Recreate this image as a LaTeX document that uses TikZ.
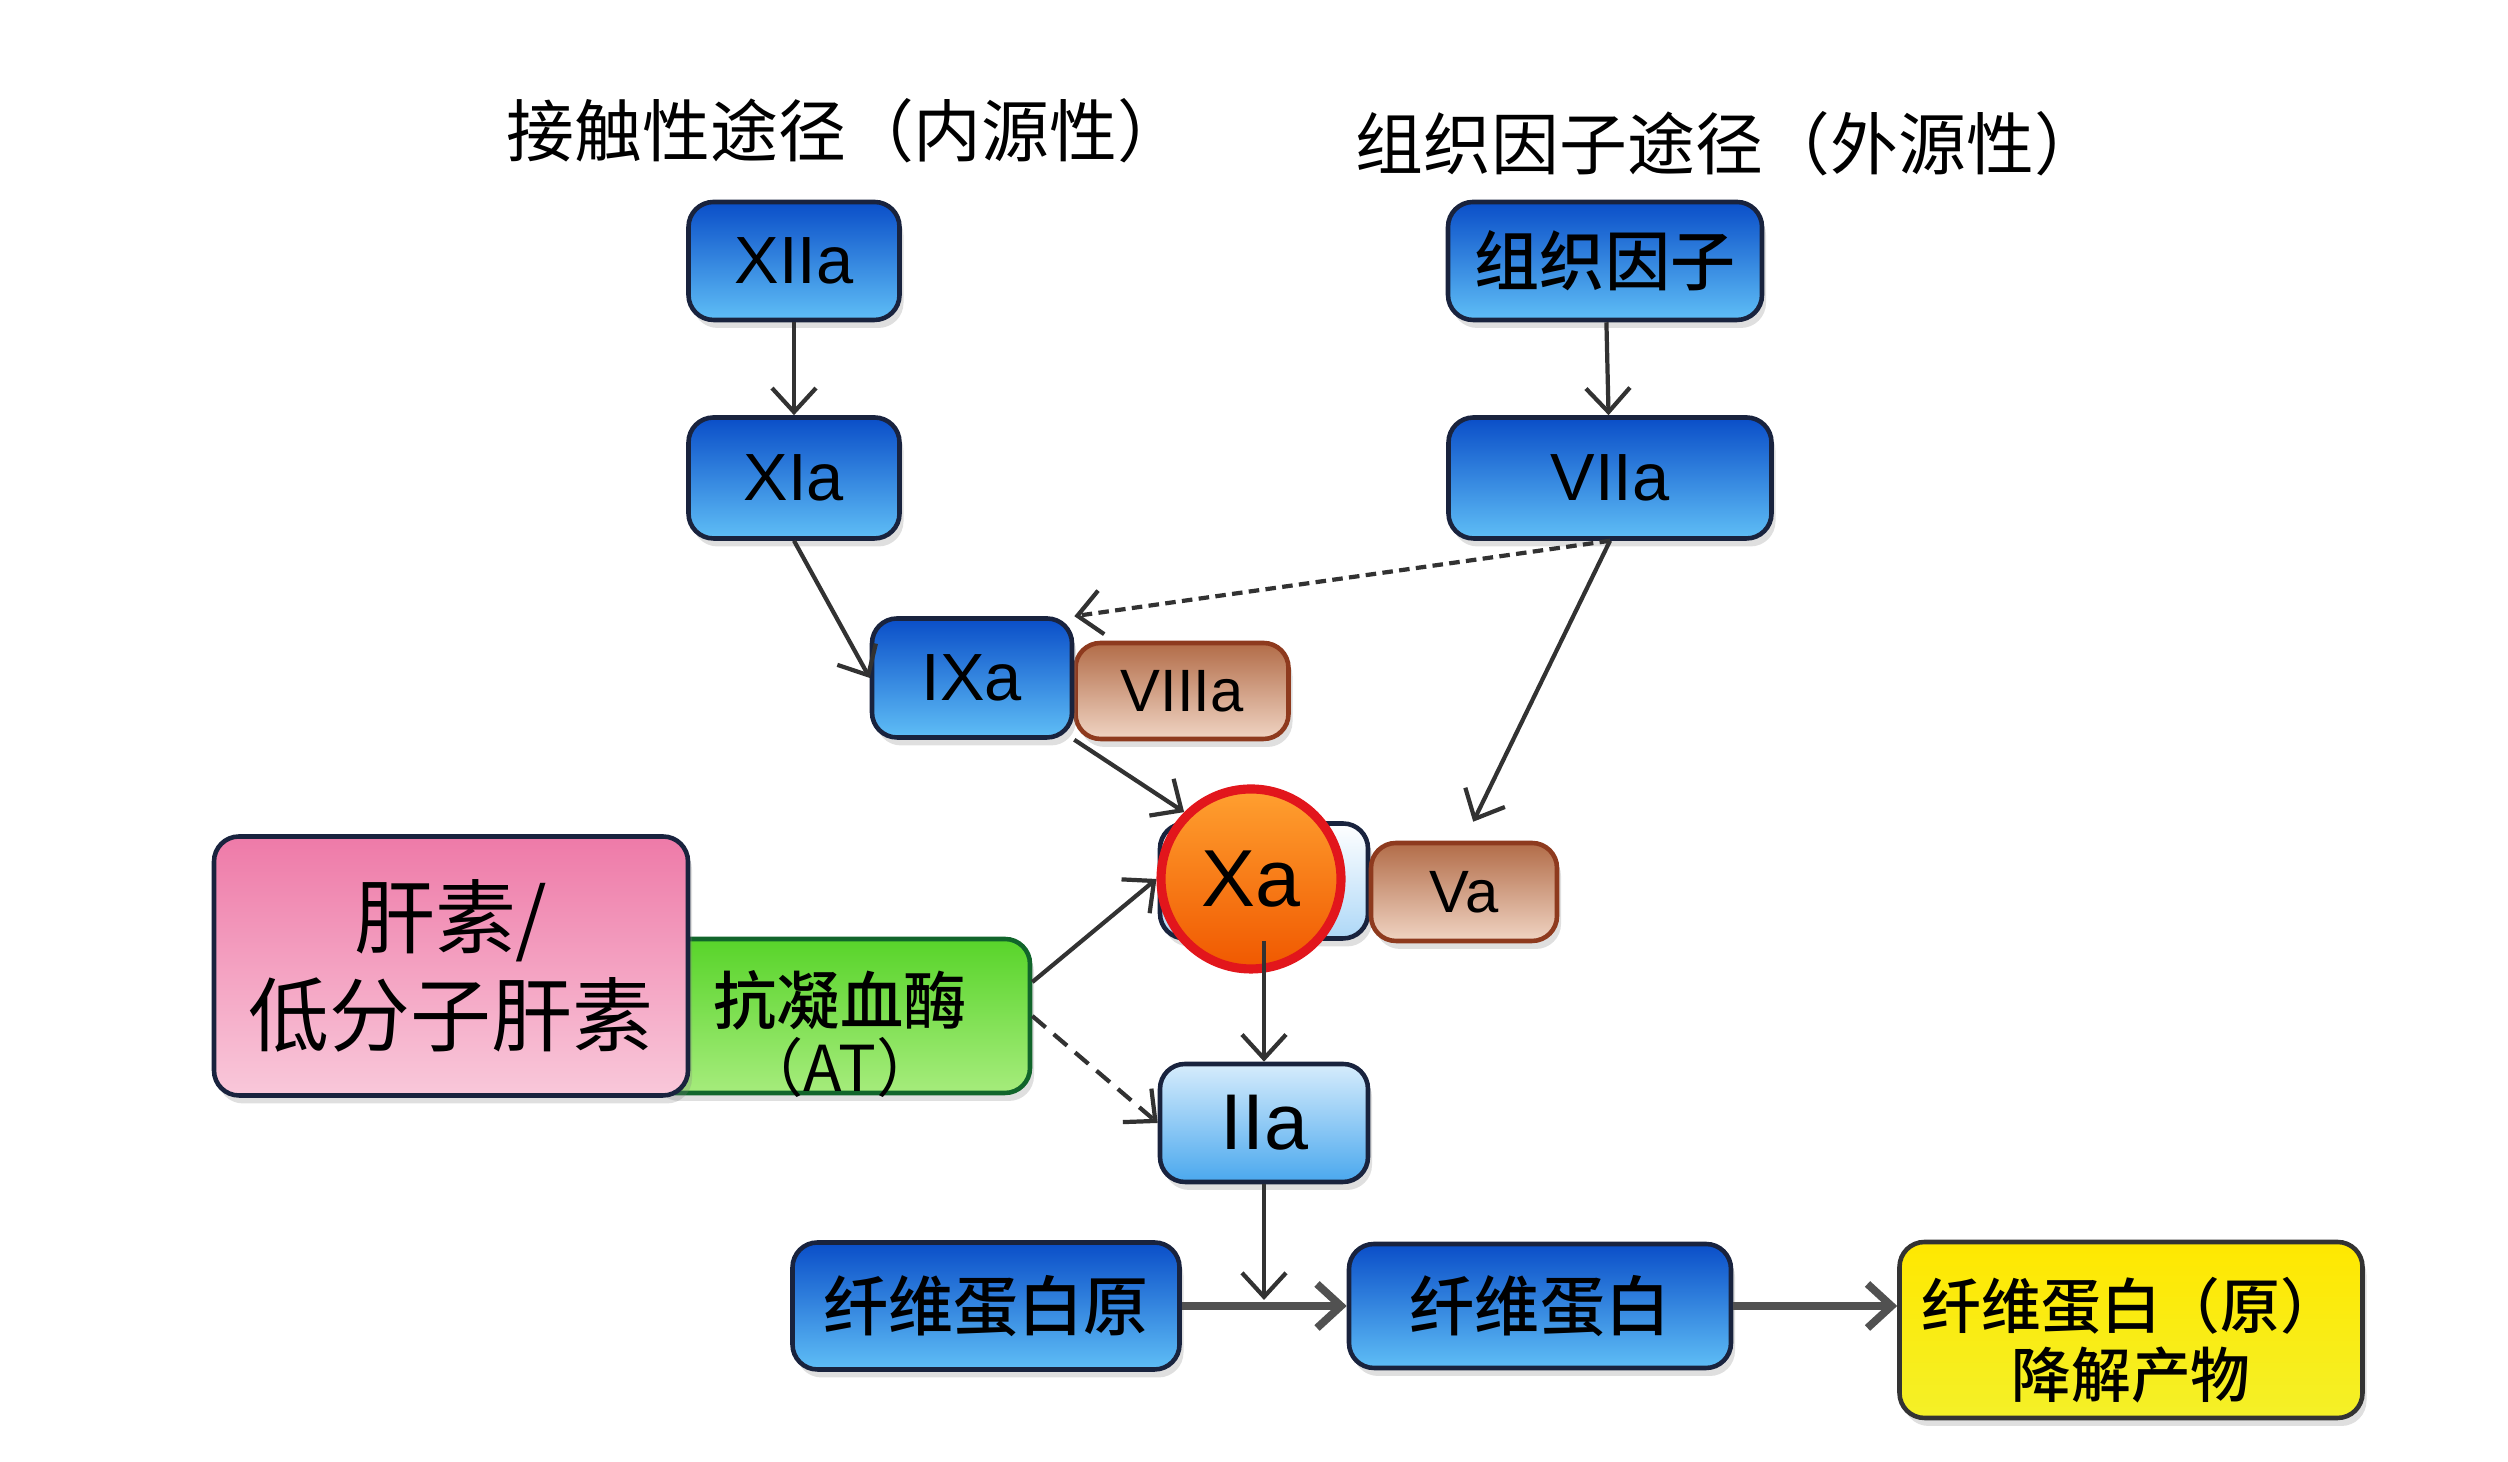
\documentclass[tikz,border=0pt]{standalone}
\usepackage{fontspec}
\setmainfont{Liberation Sans}
\newfontfamily\cjk{Noto Sans CJK SC}
\newfontfamily\cjkmed{Noto Sans CJK SC Medium}
\usepackage{tikz}
\usetikzlibrary{arrows.meta, positioning, calc, shadows}
\definecolor{navyline}{RGB}{25,35,62}
\definecolor{bluetop}{RGB}{10,78,200}
\definecolor{bluebot}{RGB}{95,190,246}
\definecolor{lighttop}{RGB}{214,236,252}
\definecolor{lightbot}{RGB}{74,168,238}
\definecolor{browntop}{RGB}{178,108,72}
\definecolor{brownbot}{RGB}{240,212,195}
\definecolor{brownline}{RGB}{142,58,30}
\definecolor{pinktop}{RGB}{238,122,168}
\definecolor{pinkbot}{RGB}{249,200,218}
\definecolor{greentop}{RGB}{88,212,42}
\definecolor{greenbot}{RGB}{166,236,124}
\definecolor{yellowtop}{RGB}{255,232,0}
\definecolor{yellowbot}{RGB}{244,240,40}
\definecolor{orangetop}{RGB}{255,160,48}
\definecolor{orangebot}{RGB}{240,88,0}
\definecolor{ringred}{RGB}{226,22,28}
\definecolor{arrowgray}{RGB}{50,50,50}
\tikzset{>={Straight Barb[length=2.4mm,width=4.4mm]}}
\tikzset{
	box/.style={draw=navyline, line width=1.3pt, rounded corners=2.5mm, inner sep=0pt, align=center,
		drop shadow={opacity=0.25, shadow xshift=0.4mm, shadow yshift=-0.8mm}},
	factor/.style={box, top color=bluetop, bottom color=bluebot, font=\fontsize{19}{22}\selectfont},
	cofactor/.style={box, draw=brownline, top color=browntop, bottom color=brownbot, font=\fontsize{17}{20}\selectfont},
	title/.style={font=\cjk\fontsize{19.3}{23}\selectfont},
	cjkbox/.style={font=\cjkmed\fontsize{18.5}{22}\selectfont},
	link/.style={->, draw=arrowgray, line width=1.2pt},
	mainlink/.style={->, draw=arrowgray!85, line width=2.2pt}
}

\begin{document}
\begin{tikzpicture}
	\useasboundingbox (0,0) rectangle (25.08,14.62);

	\node[title] (intr) at (8.46,13.31) {接触性途径（内源性）};
	\node[title] (extr) at (17.29,13.18) {组织因子途径（外源性）};

	\node[factor, minimum width=2.11cm, minimum height=1.18cm] (xiia) at (7.94,12.01) {XIIa};
	\node[factor, minimum width=2.11cm, minimum height=1.21cm] (xia) at (7.94,9.84) {XIa};
	\node[factor, cjkbox, minimum width=3.14cm, minimum height=1.18cm] (tf) at (16.05,12.01) {组织因子};
	\node[factor, minimum width=3.23cm, minimum height=1.21cm] (viia) at (16.10,9.84) {VIIa};

	\node[cofactor, minimum width=2.13cm, minimum height=0.96cm] (viiia) at (11.82,7.71) {VIIIa};
	\node[factor, minimum width=2.00cm, minimum height=1.19cm] (ixa) at (9.72,7.84) {IXa};

	\node[box, top color=white, bottom color=lightbot!45, minimum width=2.08cm, minimum height=1.15cm] (xabox) at (12.64,5.81) {};
	\node[cofactor, minimum width=1.86cm, minimum height=0.98cm] (va) at (14.64,5.70) {Va};
	\node[circle, draw=ringred, line width=2.6pt, top color=orangetop, bottom color=orangebot, minimum size=1.8cm, inner sep=0pt, font=\fontsize{23}{26}\selectfont] (xa) at (12.51,5.83) {Xa};

	\node[box, draw=navyline!70!green, top color=greentop, bottom color=greenbot, minimum width=3.80cm, minimum height=1.54cm,
		label={[yshift=-1.8mm, align=center, font=\cjk\fontsize{18}{19}\selectfont]center:{\cjkmed 抗凝血酶}\\（AT）}] (at) at (8.40,4.46) {};
	\node[box, top color=pinktop, bottom color=pinkbot, minimum width=4.74cm, minimum height=2.59cm, font=\cjk\fontsize{23}{28}\selectfont] (hep) at (4.51,4.96) {肝素/\\低分子肝素};

	\node[factor, top color=lighttop, bottom color=lightbot, minimum width=2.08cm, minimum height=1.18cm, font=\fontsize{22.5}{26}\selectfont] (iia) at (12.64,3.39) {IIa};

	\node[factor, cjkbox, minimum width=3.87cm, minimum height=1.27cm] (fg) at (9.86,1.56) {纤维蛋白原};
	\node[factor, cjkbox, minimum width=3.82cm, minimum height=1.24cm] (fb) at (15.40,1.56) {纤维蛋白};
	\node[box, draw=black!80, top color=yellowtop, bottom color=yellowbot, minimum width=4.63cm, minimum height=1.76cm,
		label={[yshift=-1mm, align=center, font=\cjkmed\fontsize{17}{19.5}\selectfont]center:纤维蛋白（原）\\降解产物}] (fdp) at (21.31,1.32) {};

	\coordinate (merge) at (12.64,1.62);

	\draw [link] (xiia) -- (xia);
	\draw [link] (tf) -- (viia);
	\draw [link] (xia.south) -- (ixa.west);
	\draw [link, dash pattern=on 3pt off 1.8pt] (viia.south) -- (ixa.north east);
	\draw [link, shorten >=6pt] (viia.south) -- (va.north);
	\draw [link] (ixa.south east) -- (xa.135);
	\draw [link] (at.10) -- (xa.west);
	\draw [link, dash pattern=on 5pt off 3pt] (at.east) -- (iia.west);
	\draw [link] (xabox.south) -- (iia.north);
	\draw [link] (iia.south) -- (merge);
	\draw [mainlink] (fg.east) -- (fb.west);
	\draw [mainlink] (fb.east) -- (fb.east -| fdp.west);
\end{tikzpicture}
\end{document}
